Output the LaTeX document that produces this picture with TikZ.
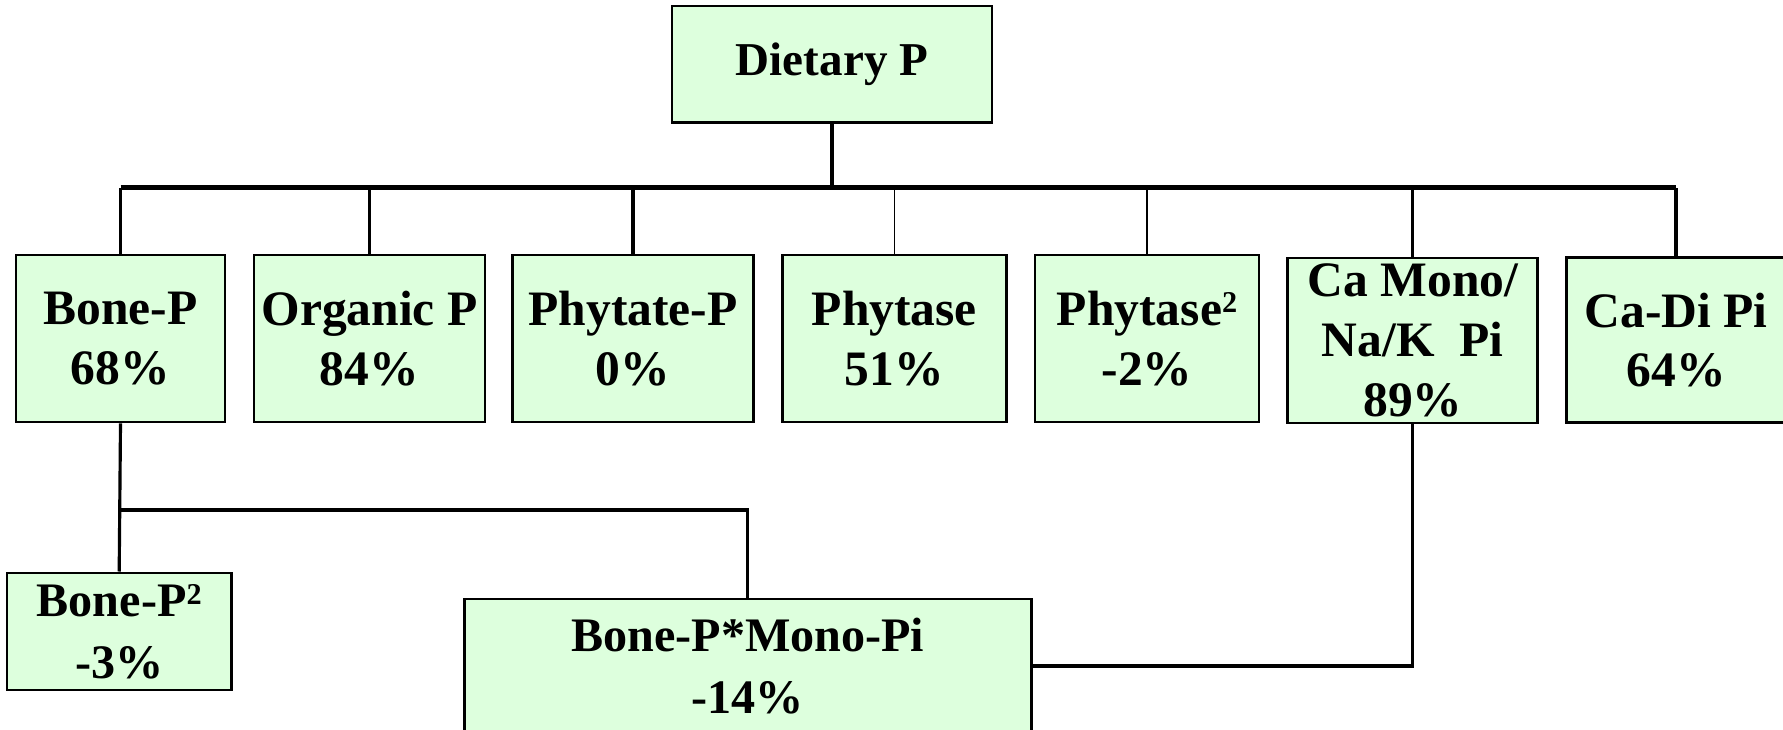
\documentclass[tikz,border=0pt]{standalone}
\usepackage{fontspec}
\setmainfont{Liberation Serif}
\definecolor{boxgreen}{RGB}{221,255,221}
\newcommand{\sqr}{\raisebox{3.6pt}{\fontsize{8.6}{8.6}\selectfont 2}}

\begin{document}
\begin{tikzpicture}[
    box/.style={draw, fill=boxgreen, line width=0.8pt, align=center, inner sep=0pt,
      font=\fontsize{14.1}{17}\selectfont\bfseries, minimum height=1.67cm},
    link/.style={line width=0.9pt},
    bus/.style={line width=1.2pt},
    thin link/.style={line width=0.35pt}]
  \useasboundingbox (0,0) rectangle (17.83,7.29);
%  \draw [help lines] (0,0) grid (18,7);

  \node [box, minimum width=3.2cm, minimum height=1.167cm, font=\fontsize{13.4}{17}\selectfont\bfseries] (diet) at (8.32,6.647) {Dietary P};

  % middle row
  \node [box, minimum width=2.09cm] (bone) at (1.205,3.905) {Bone-P\\68\%};
  \node [box, minimum width=2.31cm] (organic) at (3.695,3.905) {Organic P\\84\%};
  \node [box, minimum width=2.41cm] (phytate) at (6.33,3.905) {Phytate-P\\0\%};
  \node [box, minimum width=2.24cm] (phytase) at (8.944,3.905) {Phytase\\51\%};
  \node [box, minimum width=2.24cm] (phytase2) at (11.47,3.905) {Phytase\sqr\\-2\%};
  \node [box, minimum width=2.50cm, minimum height=1.65cm] (camono) at (14.128,3.885) {Ca Mono/\\Na/K~~Pi\\89\%};
  \node [box, minimum width=2.19cm, minimum height=1.65cm] (cadi) at (16.76,3.89) {Ca-Di Pi\\64\%};

  % bottom row
  \node [box, minimum width=2.245cm, minimum height=1.17cm, font=\fontsize{13.7}{17.5}\selectfont\bfseries] (bone2) at (1.192,0.976) {Bone-P\sqr\\-3\%};
  \node [box, minimum width=5.67cm, minimum height=1.34cm, font=\fontsize{13.7}{17.5}\selectfont\bfseries] (bpmp) at (7.478,0.63) {Bone-P*Mono-Pi\\-14\%};

  \coordinate (split) at (8.32,5.414);
  \coordinate (fork) at (1.205,2.19);

  \draw [link] (diet.south) -- (split);
  \draw [bus] (bone.north |- split) -- (cadi.north |- split);
  \foreach \n in {bone,organic,phytate,camono,cadi}
    \draw [link] (\n.north) -- (\n.north |- split);
  \draw [thin link] (phytase.north) -- (phytase.north |- split);
  \draw [thin link] (phytase2.north) -- (phytase2.north |- split);

  \draw [link] (bone.south) -- (bone2.north);
  \draw [link] (fork) -| (bpmp.north);
  \draw [link] (camono.south) |- (bpmp.east);

\end{tikzpicture}
\end{document}
